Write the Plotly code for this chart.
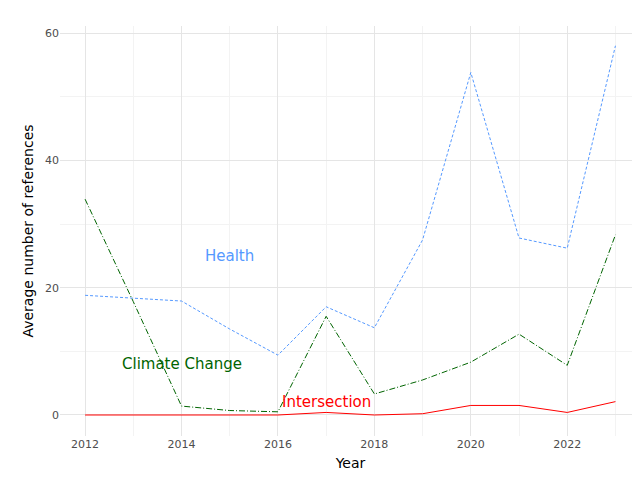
import plotly.graph_objects as go

years = list(range(2012, 2024))
health = [18.8, 18.4, 17.9, 13.5, 9.4, 17.0, 13.7, 27.5, 53.8, 27.8, 26.2, 58.0]
climate = [33.9, 17.8, 1.4, 0.7, 0.5, 15.5, 3.3, 5.5, 8.3, 12.7, 7.8, 28.3]
inter = [0, 0, 0, 0, 0, 0.4, 0, 0.2, 1.5, 1.5, 0.4, 2.1]

fig = go.Figure()
fig.add_trace(go.Scatter(x=years, y=health, mode="lines", line=dict(color="#5599ff", width=1, dash="3px,2px")))
fig.add_trace(go.Scatter(x=years, y=climate, mode="lines", line=dict(color="#006400", width=1, dash="6px,2px,1px,2px")))
fig.add_trace(go.Scatter(x=years, y=inter, mode="lines", line=dict(color="red", width=1)))

for t, x, y, c in [("Health", 2015, 25, "#5599ff"), ("Climate Change", 2014, 8, "#006400"), ("Intersection", 2017, 2, "red")]:
    fig.add_annotation(x=x, y=y, text=t, showarrow=False, font=dict(size=15, color=c, family="DejaVu Sans"))

fig.update_layout(
    width=640, height=480, showlegend=False,
    plot_bgcolor="white", paper_bgcolor="white",
    margin=dict(l=52, r=7, t=18, b=52),
    font=dict(family="DejaVu Sans", color="#4d4d4d", size=11),
    xaxis=dict(title=dict(text="Year", font=dict(size=14, color="black"), standoff=8), range=[2011.48, 2023.53],
               automargin=False, ticklen=0,
               tickvals=[2012, 2014, 2016, 2018, 2020, 2022], gridcolor="#e5e5e5", zeroline=False,
               minor=dict(tickvals=[2013, 2015, 2017, 2019, 2021, 2023], gridcolor="#f3f3f3", showgrid=True)),
    yaxis=dict(title=dict(text="Average number of references", font=dict(size=14, color="black"), standoff=8), range=[-3.3, 61.1],
               automargin=False, ticklen=0,
               tickvals=[0, 20, 40, 60], gridcolor="#e5e5e5", zeroline=False,
               minor=dict(tickvals=[10, 30, 50], gridcolor="#f3f3f3", showgrid=True)),
)
fig.write_html("out.html")
